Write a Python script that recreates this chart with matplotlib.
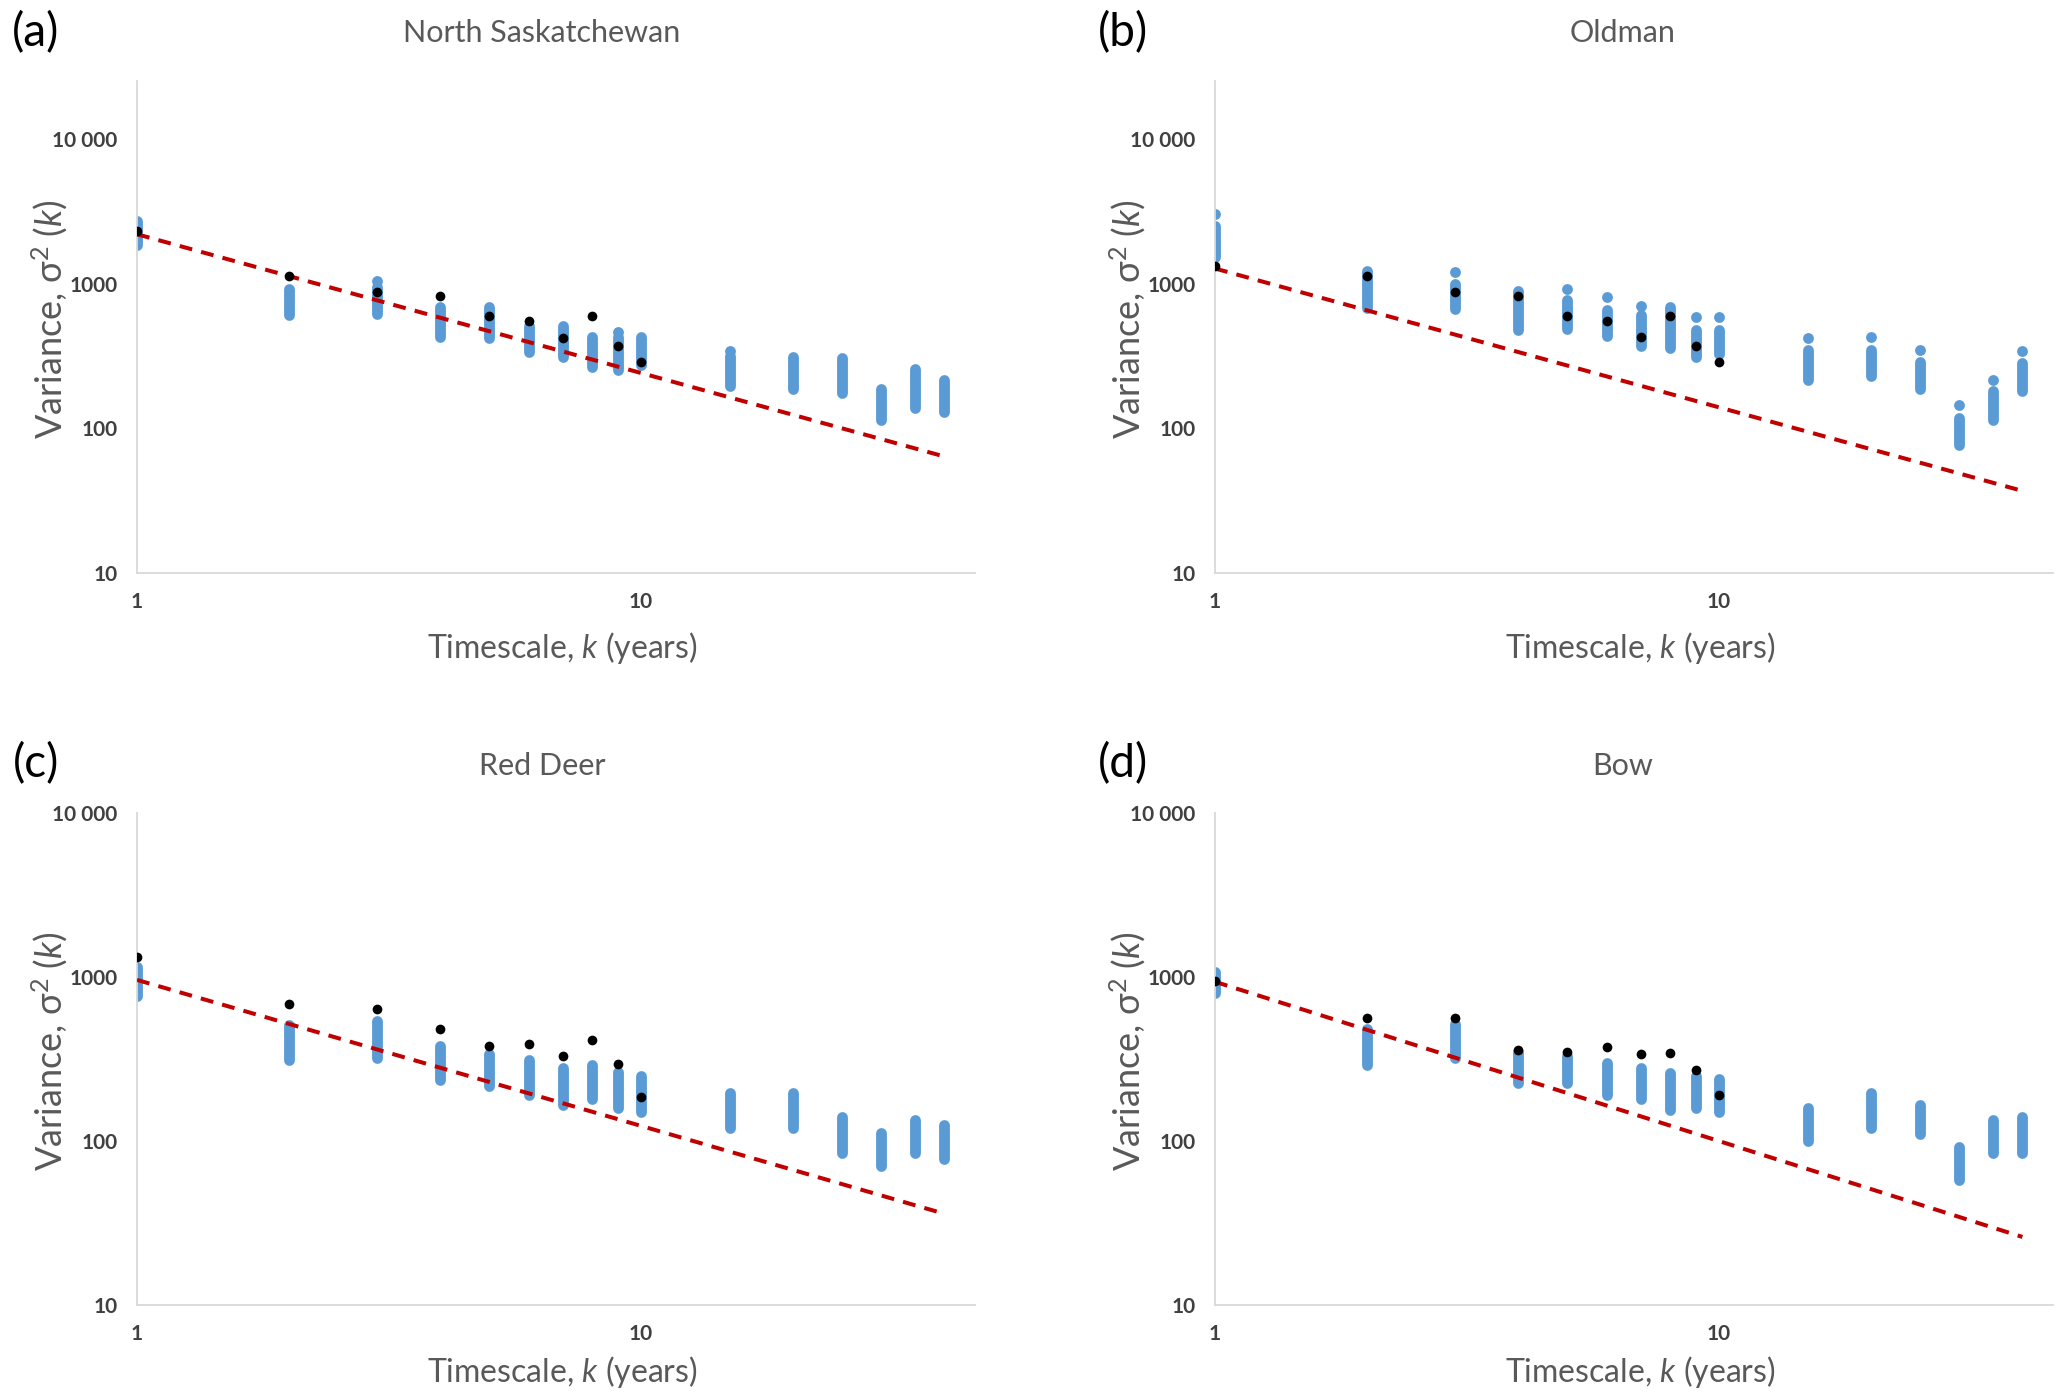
import numpy as np
import matplotlib.pyplot as plt
from matplotlib.ticker import FixedLocator, NullLocator

plt.rcParams['font.family'] = ['Lato', 'DejaVu Sans']
plt.rcParams['mathtext.fontset'] = 'custom'
plt.rcParams['mathtext.rm'] = 'Lato'
plt.rcParams['mathtext.it'] = 'Lato:italic'

# timescales (years)
k_sim = [1, 2, 3, 4, 5, 6, 7, 8, 9, 10, 15, 20, 25, 30, 35, 40]
k_obs = [1, 2, 3, 4, 5, 6, 7, 8, 9, 10]
k_fit = [1, 40]
nan = np.nan

# North Saskatchewan
ns_lo = [1870, 610, 617, 432, 421, 341, 314, 268, 254, 275, 196, 187, 176, 114, 139, 130]
ns_hi = [2740, 923, 960, 693, 690, 510, 515, 428, 430, 428, 320, 312, 307, 189, 260, 216]
ns_top = [nan, nan, 1056, nan, nan, nan, nan, nan, 463, nan, 344, nan, nan, nan, nan, nan]
ns_obs = [2330, 1140, 880, 826, 600, 555, 426, 600, 371, 287]
ns_fit = [2210, 64]

# Oldman
old_lo = [1540, 687, 668, 478, 491, 435, 371, 363, 312, 326, 218, 230, 189, 77, 114, 182]
old_hi = [2520, 1224, 1007, 890, 780, 665, 607, 693, 478, 483, 352, 352, 289, 118, 181, 284]
old_top = [3070, nan, 1211, nan, 923, 813, 701, nan, 591, 591, 423, 430, 348, 145, 218, 342]
old_obs = [1332, 1136, 880, 826, 598, 555, 430, 598, 371, 287]
old_fit = [1280, 37]

# Red Deer
rd_lo = [770, 310, 320, 235, 215, 190, 165, 180, 160, 150, 120, 120, 85, 70, 85, 78]
rd_hi = [1150, 510, 540, 380, 340, 310, 280, 290, 265, 250, 195, 195, 140, 112, 135, 125]
rd_top = [nan] * 16
rd_obs = [1320, 680, 640, 480, 380, 390, 330, 415, 295, 185]
rd_fit = [960, 36]

# Bow
bow_lo = [800, 290, 320, 225, 225, 190, 180, 155, 160, 150, 100, 120, 110, 58, 85, 85]
bow_hi = [1080, 480, 520, 350, 330, 300, 280, 260, 250, 240, 160, 195, 165, 92, 135, 140]
bow_top = [nan] * 16
bow_obs = [950, 560, 560, 360, 350, 375, 340, 345, 270, 190]
bow_fit = [935, 26]

panels = [
    ('(a)', 'North Saskatchewan', ns_lo, ns_hi, ns_top, ns_obs, ns_fit, 25400),
    ('(b)', 'Oldman', old_lo, old_hi, old_top, old_obs, old_fit, 25400),
    ('(c)', 'Red Deer', rd_lo, rd_hi, rd_top, rd_obs, rd_fit, 10000),
    ('(d)', 'Bow', bow_lo, bow_hi, bow_top, bow_obs, bow_fit, 10000),
]

W, H = 2067, 1395
fig = plt.figure(figsize=(W / 100, H / 100), dpi=100)

# axes boxes in pixels: left, top
boxes = [(137, 81), (1215, 81), (137, 813), (1215, 813)]
ax_w, ax_h = 838, 492
labpos = [(36, 33), (1123, 33), (36, 764), (1123, 764)]
titlepos = [(542, 33), (1623, 33), (542, 766), (1623, 766)]
xlab_y = [-0.115, -0.115, -0.10, -0.10]

BLUE = '#5B9BD5'
GRAY = '#595959'
DARK = '#404040'

for i, (lab, title, lo, hi, top, obs, fit, ymax) in enumerate(panels):
    left, topy = boxes[i]
    ax = fig.add_axes([left / W, 1 - (topy + ax_h) / H, ax_w / W, ax_h / H])

    for kk, a, b in zip(k_sim, lo, hi):
        ax.plot([kk, kk], [a, b], color=BLUE, lw=7.8, solid_capstyle='round', zorder=2)
    ax.plot(k_sim, top, 'o', color=BLUE, ms=7.8, mew=0, zorder=2)

    ax.plot(k_fit, fit, color='#C00000', lw=2.9, linestyle=(0, (3.2, 2.3)),
            dash_capstyle='butt', zorder=3)
    ax.plot(k_obs, obs, 'o', color='black', ms=7, mew=0, zorder=4)

    ax.set_xscale('log')
    ax.set_yscale('log')
    ax.set_xlim(1, 46)
    ax.set_ylim(10, ymax)
    ax.xaxis.set_major_locator(FixedLocator([1, 10]))
    ax.xaxis.set_minor_locator(NullLocator())
    ax.yaxis.set_major_locator(FixedLocator([10, 100, 1000, 10000]))
    ax.yaxis.set_minor_locator(NullLocator())
    ax.set_xticklabels(['1', '10'])
    ax.set_yticklabels(['10', '100', '1000', '10 000'])
    ax.tick_params(length=0, labelsize=15, labelcolor=DARK, pad=14)
    for t in ax.get_xticklabels() + ax.get_yticklabels():
        t.set_fontweight('bold')

    for s in ['top', 'right']:
        ax.spines[s].set_visible(False)
    for s in ['left', 'bottom']:
        ax.spines[s].set_color('#D9D9D9')
        ax.spines[s].set_linewidth(1.3)

    ax.set_xlabel('Timescale, $\\mathit{k}$ (years)', fontsize=23, color=GRAY)
    ax.set_ylabel('Variance, σ$^{2}$ ($\\mathit{k}$)', fontsize=26, color=GRAY)
    ax.xaxis.set_label_coords(0.507, xlab_y[i])
    ax.yaxis.set_label_coords(-0.08, 0.515)

    fig.text(labpos[i][0] / W, 1 - labpos[i][1] / H, lab, fontsize=33,
             color='black', ha='center', va='center')
    fig.text(titlepos[i][0] / W, 1 - titlepos[i][1] / H, title, fontsize=22,
             color=GRAY, ha='center', va='center')

fig.savefig('out.png', dpi=100, facecolor='white')
